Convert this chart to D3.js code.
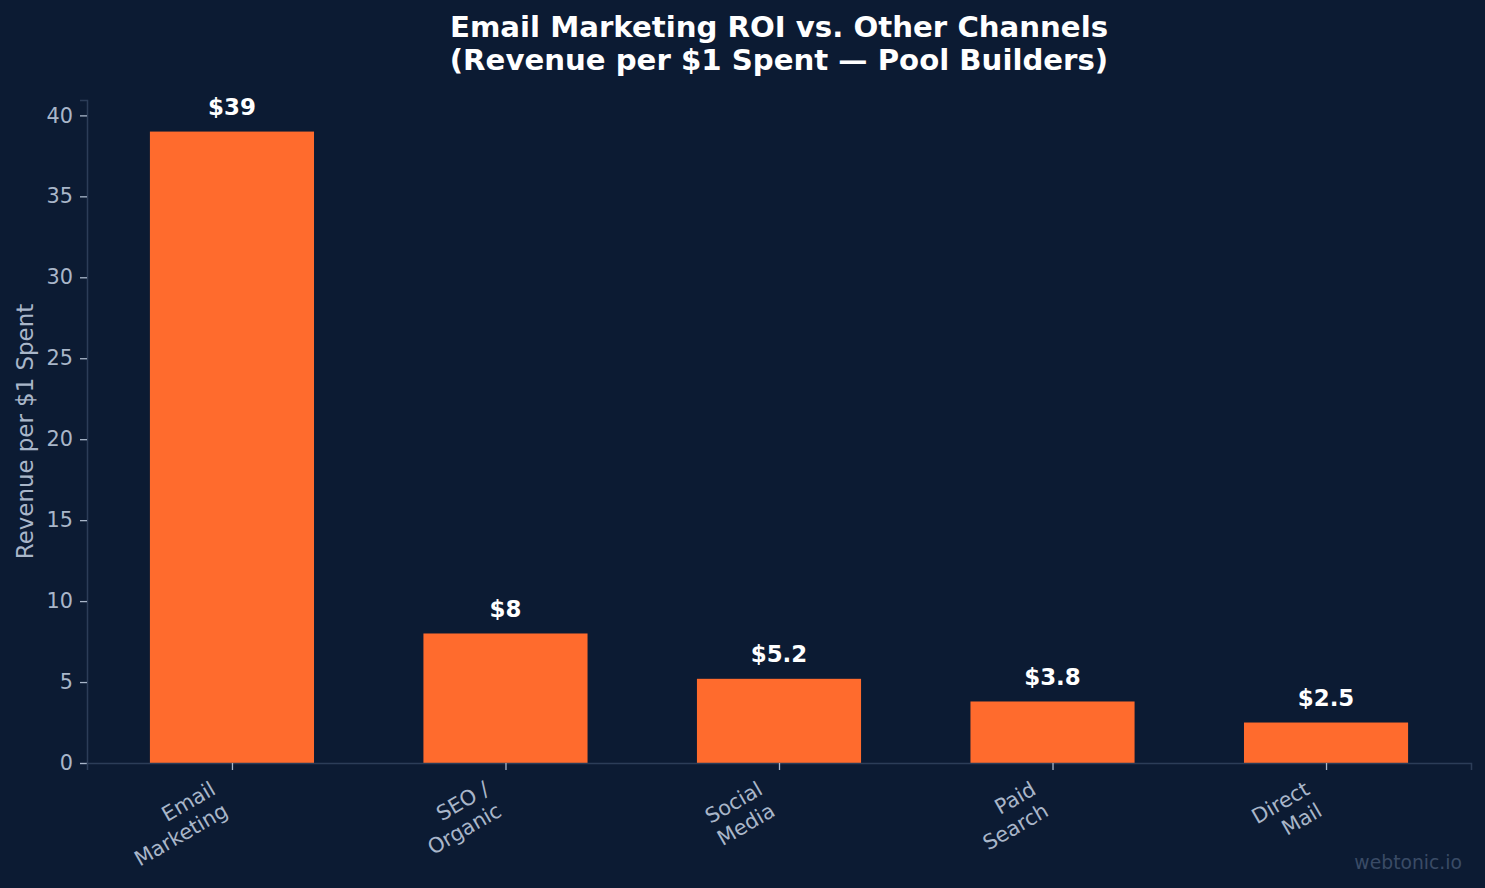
<!DOCTYPE html>
<html><head><meta charset="utf-8">
<script src="https://cdn.jsdelivr.net/npm/d3@7"></script>
<style>html,body{margin:0;padding:0;background:#0c1b33;}svg{display:block;font-family:"DejaVu Sans",sans-serif;}</style>
</head><body>
<script>
const categories = [["Email","Marketing"],["SEO /","Organic"],["Social","Media"],["Paid","Search"],["Direct","Mail"]];
const values = [39, 8, 5.2, 3.8, 2.5];
const valueLabels = ["$39","$8","$5.2","$3.8","$2.5"];
const yTicks = [0,5,10,15,20,25,30,35,40];
const titleLines = ["Email Marketing ROI vs. Other Channels","(Revenue per $1 Spent — Pool Builders)"];

const W = 1485, H = 888;
const m = {left:87, right:1471, top:100, bottom:763};
const bg = "#0c1b33", barColor = "#ff6b2d", tickColor = "#a9b6c9", spineColor = "#2c3d58";

const svg = d3.select("body").append("svg").attr("width",W).attr("height",H);
svg.append("rect").attr("width",W).attr("height",H).attr("fill",bg);

const x = d3.scaleLinear().domain([-0.53, values.length-1+0.53]).range([m.left, m.right]);
const y = d3.scaleLinear().domain([0, 40.95]).range([m.bottom, m.top]);
const bw = x(0.3) - x(-0.3);

// bars
svg.selectAll("rect.bar").data(values).join("rect").attr("class","bar")
  .attr("x",(d,i)=>x(i)-bw/2).attr("width",bw)
  .attr("y",d=>y(d)).attr("height",d=>y(0)-y(d)).attr("fill",barColor);

// value labels
svg.selectAll("text.val").data(values).join("text").attr("class","val")
  .attr("x",(d,i)=>x(i)).attr("y",d=>y(d)-16.5)
  .attr("text-anchor","middle").attr("fill","#ffffff").attr("font-weight","bold").attr("font-size",22.9)
  .text((d,i)=>valueLabels[i]);

// y axis
const yAxis = d3.axisLeft(y).tickValues(yTicks).tickSize(7).tickPadding(7);
const gy = svg.append("g").attr("transform",`translate(${m.left},0)`).call(yAxis);
gy.select(".domain").attr("stroke",spineColor).attr("stroke-width",1.5);
gy.selectAll(".tick line").attr("stroke",tickColor).attr("stroke-width",1.3);
gy.selectAll(".tick text").attr("fill",tickColor).attr("font-size",20.8).attr("font-family","DejaVu Sans");

// x axis
const xAxis = d3.axisBottom(x).tickValues(d3.range(values.length)).tickSize(7).tickFormat("");
const gx = svg.append("g").attr("transform",`translate(0,${m.bottom})`).call(xAxis);
gx.select(".domain").attr("stroke",spineColor).attr("stroke-width",1.5);
gx.selectAll(".tick line").attr("stroke",tickColor).attr("stroke-width",1.3);

// rotated multi-line tick labels (right-aligned, rotated 30°)
const fs = 20.8, lh = fs*1.2, ang = 30*Math.PI/180;
categories.forEach((lines,i)=>{
  const g = svg.append("g");
  lines.forEach((t,j)=>g.append("text").attr("font-size",fs).attr("fill",tickColor)
     .attr("text-anchor","end").attr("x",0).attr("dy", (j+0.8)*lh).text(t));
  const Hb = lines.length*lh;
  g.attr("transform",`translate(${x(i) - Hb*Math.sin(ang)},${m.bottom+13}) rotate(-30)`);
});

// y label
svg.append("text").attr("transform",`translate(33,${(m.top+m.bottom)/2}) rotate(-90)`)
  .attr("text-anchor","middle").attr("fill",tickColor).attr("font-size",22.9).text("Revenue per $1 Spent");

// title
const tt = svg.append("text").attr("text-anchor","middle").attr("fill","#ffffff").attr("font-weight","bold").attr("font-size",29.2);
titleLines.forEach((t,j)=>tt.append("tspan").attr("x",(m.left+m.right)/2).attr("y",37+j*33).text(t));

// watermark
svg.append("text").attr("x",1462).attr("y",869).attr("text-anchor","end").attr("fill","#3a4b66").attr("font-size",18.75).text("webtonic.io");
</script>
</body></html>
